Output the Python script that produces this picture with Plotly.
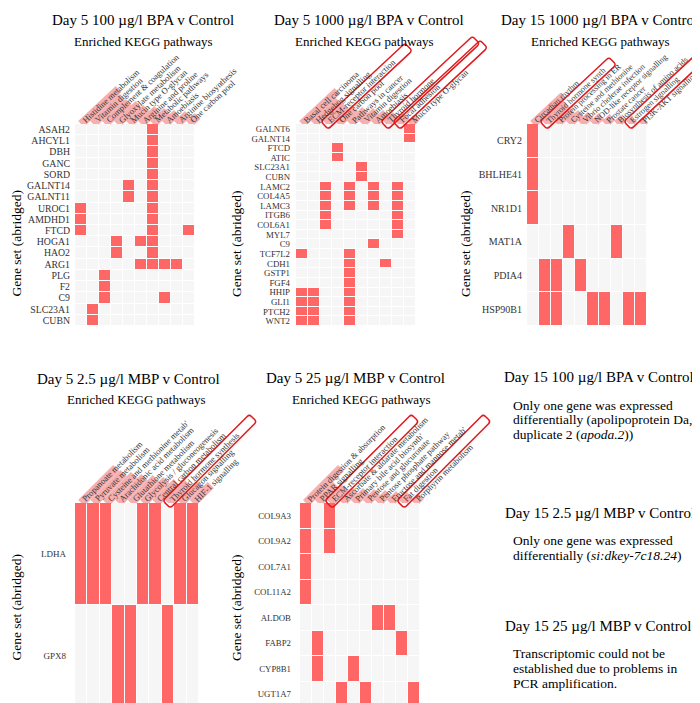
import math
import plotly.graph_objects as go

# ---------------- data ----------------
p1_title = "Day 5 100 \u00b5g/l BPA v Control"
p1_pathways = ["Histidine metabolism", "Vitamin digestion", "Complement & coagulation",
               "Glyoxylate metabolism", "Mucin type O-glycan", "Arginine and proline",
               "Metabolic pathways", "Amoebiasis", "Arginine biosynthesis", "One carbon pool"]
p1_genes = ["ASAH2", "AHCYL1", "DBH", "GANC", "SORD", "GALNT14", "GALNT11", "UROC1", "AMDHD1",
            "FTCD", "HOGA1", "HAO2", "ARG1", "PLG", "F2", "C9", "SLC23A1", "CUBN"]
p1_hits = [[6], [6], [6], [6], [6], [4, 6], [4, 6], [0, 6], [0, 6], [0, 6, 9], [3, 5, 6], [3, 6],
           [5, 6, 7, 8], [2], [2], [2, 7], [1], [1]]
p1_enrich = [35, 27, 22, 20, 16, 15, 13, 11, 10, 8]
p1_boxed = []

p2_title = "Day 5 1000 \u00b5g/l BPA v Control"
p2_pathways = ["Basal cell carcinoma", "Hedgehog signalling", "ECM-receptor interaction",
               "One carbon pool", "Pathways in cancer", "Vitamin digestion", "Amoebiasis",
               "Thyroid hormone", "Focal adhesion", "Mucin type O-glycan"]
p2_genes = ["GALNT6", "GALNT14", "FTCD", "ATIC", "SLC23A1", "CUBN", "LAMC2", "COL4A5", "LAMC3",
            "ITGB6", "COL6A1", "MYL7", "C9", "TCF7L2", "CDH1", "GSTP1", "FGF4", "HHIP", "GLI1",
            "PTCH2", "WNT2"]
p2_hits = [[9], [9], [3], [3], [5], [5], [2, 4, 6, 8], [2, 4, 6, 8], [2, 4, 6, 8], [2, 8], [2, 8],
           [8], [6], [0, 4], [4, 7], [4], [4], [0, 1, 4], [0, 1, 4], [0, 1, 4], [0, 1, 4]]
p2_enrich = [33, 23, 18, 16, 14, 13, 11, 9, 8, 6]
p2_boxed = [2, 7, 8]

p3_title = "Day 15 1000 \u00b5g/l BPA v Control"
p3_pathways = ["Circadian rhythm", "Thyroid hormone synth", "Protein processing in ER",
               "Cysteine and methionine", "Vibrio cholerae infection",
               "NOD-like receptor signalling", "Prostate cancer", "Biosynthesis of amino acids",
               "Estrogen signalling", "PI3K-AKT signalling"]
p3_genes = ["CRY2", "BHLHE41", "NR1D1", "MAT1A", "PDIA4", "HSP90B1"]
p3_hits = [[0], [0], [0], [3, 7], [1, 2, 4], [1, 2, 5, 6, 8, 9]]
p3_enrich = [28, 20, 14, 11, 9, 8, 7, 6, 5, 4]
p3_boxed = [1, 8]

p4_title = "Day 5 2.5 \u00b5g/l MBP v Control"
p4_pathways = ["Propanoate metabolism", "Pyruvate metabolism", "Cysteine and methionine metab'",
               "Arachidonic acid metabolism", "Glutathione metabolism",
               "Glycolysis / gluconeogenesis", "Central carbon metabolism",
               "Thyroid hormone synthesis", "Glucagon signalling", "HIF-1 signalling"]
p4_genes = ["LDHA", "GPX8"]
p4_hits = [[0, 1, 2, 5, 6, 8, 9], [3, 4, 7]]
p4_enrich = [35, 30, 28, 26, 25, 23, 21, 20, 19, 18]
p4_boxed = [7]

p5_title = "Day 5 25 \u00b5g/l MBP v Control"
p5_pathways = ["Protein digestion & absorption", "PPAR signalling", "ECM-receptor interaction",
               "Ascorbate & aldarate metabolism", "Primary bile acid biosynth'",
               "Pentose and glucuronate", "Pentose phosphate pathway",
               "Fructose and mannose metab'", "Fat digestion", "Porphyrin metabolism"]
p5_genes = ["COL9A3", "COL9A2", "COL7A1", "COL11A2", "ALDOB", "FABP2", "CYP8B1", "UGT1A7"]
p5_hits = [[0, 2], [0, 2], [0], [0], [6, 7], [1, 8], [1, 4], [3, 5, 9]]
p5_enrich = [35, 18, 15, 13, 12, 11, 10, 9, 8, 7]
p5_boxed = [2, 8]

sub_title = "Enriched KEGG pathways"
ylab = "Gene set (abridged)"

note_titles = ["Day 15 100 \u00b5g/l BPA v Control", "Day 15 2.5 \u00b5g/l MBP v Control",
               "Day 15 25 \u00b5g/l MBP v Control"]
note_lines = [["Only one gene was expressed", "differentially (apolipoprotein Da,",
               "duplicate 2 (<i>apoda.2</i>))"],
              ["Only one gene was expressed", "differentially (<i>si:dkey-7c18.24</i>)"],
              ["Transcriptomic could not be", "established due to problems in",
               "PCR amplification."]]

# ---------------- layout / style ----------------
W, H = 700, 703
FONT = '"Liberation Serif", "Times New Roman", Times, serif'
RED = "#ff6666"
EMPTY = "#f6f6f6"
PINK = "rgba(238,95,95,0.5)"
BOX = "#e0191c"
TITLE_SIZE = 15


def fx(px):
    return px / W


def fy(py):
    return 1 - py / H


panels = [
    dict(title=p1_title, pathways=p1_pathways, genes=p1_genes, hits=p1_hits, enrich=p1_enrich,
         boxed=p1_boxed, box_len=[], xdom=(67, 187), ydom=(116, 318), angle=43, gfont=9.8,
         lfont=8.6, standoff=4, title_xy=(135, 12), sub_xy=(135, 33), ylab_xy=(7.5, 236)),
    dict(title=p2_title, pathways=p2_pathways, genes=p2_genes, hits=p2_hits, enrich=p2_enrich,
         boxed=p2_boxed, box_len=[77, 84, 80], xdom=(288, 408), ydom=(116, 318), angle=43,
         gfont=8.8, lfont=8.6, standoff=5, title_xy=(361, 12), sub_xy=(356, 33),
         ylab_xy=(228, 236)),
    dict(title=p3_title, pathways=p3_pathways, genes=p3_genes, hits=p3_hits, enrich=p3_enrich,
         boxed=p3_boxed, box_len=[63, 67], xdom=(519, 639), ydom=(116, 318), angle=43,
         gfont=10, lfont=8.2, standoff=4, title_xy=(591, 12), sub_xy=(592, 33),
         ylab_xy=(457, 236)),
    dict(title=p4_title, pathways=p4_pathways, genes=p4_genes, hits=p4_hits, enrich=p4_enrich,
         boxed=p4_boxed, box_len=[85], xdom=(67, 191), ydom=(495, 699), angle=45,
         gfont=9, lfont=8.6, standoff=8, title_xy=(120, 371), sub_xy=(128, 391),
         ylab_xy=(7.5, 600)),
    dict(title=p5_title, pathways=p5_pathways, genes=p5_genes, hits=p5_hits, enrich=p5_enrich,
         boxed=p5_boxed, box_len=[85, 85], xdom=(292, 412), ydom=(495, 699), angle=45,
         gfont=8.8, lfont=8.6, standoff=8, title_xy=(347, 370), sub_xy=(353, 391),
         ylab_xy=(228, 600)),
]

LABEL_PAD = 1.5


def rect_path(a_deg, u0, u1, t, r=0.0):
    """Rotated (rounded) rectangle, pixel offsets from anchor, y up positive."""
    a = math.radians(a_deg)
    d = (math.cos(a), -math.sin(a))      # along label (screen coords)
    n = (math.sin(a), math.cos(a))       # perpendicular, down-right

    def P(u, v):
        x = u * d[0] + v * n[0]
        y = u * d[1] + v * n[1]
        return f"{x:.2f},{-y:.2f}"

    if r <= 0:
        return f"M {P(u0, t)} L {P(u1, t)} L {P(u1, -t)} L {P(u0, -t)} Z"
    return (f"M {P(u0 + r, t)} L {P(u1 - r, t)} Q {P(u1, t)} {P(u1, t - r)} "
            f"L {P(u1, -t + r)} Q {P(u1, -t)} {P(u1 - r, -t)} "
            f"L {P(u0 + r, -t)} Q {P(u0, -t)} {P(u0, -t + r)} "
            f"L {P(u0, t - r)} Q {P(u0, t)} {P(u0 + r, t)} Z")


fig = go.Figure()
annotations = []
shapes = []
layout_axes = {}

for k, p in enumerate(panels, start=1):
    sx = "" if k == 1 else str(k)
    xname, yname = "x" + sx, "y" + sx
    npw = len(p["pathways"])
    z = [[1 if c in row else 0 for c in range(npw)] for row in p["hits"]]
    fig.add_trace(go.Heatmap(
        z=z, x=p["pathways"], y=p["genes"], xaxis=xname, yaxis=yname,
        colorscale=[[0, EMPTY], [1, RED]], zmin=0, zmax=1, showscale=False,
        xgap=1, ygap=1, hoverinfo="skip"))
    layout_axes["xaxis" + sx] = dict(
        domain=[fx(p["xdom"][0]), fx(p["xdom"][1])], anchor=yname,
        showticklabels=False, showgrid=False, zeroline=False, ticks="",
        range=[-0.5, npw - 0.5], fixedrange=True, automargin=False)
    layout_axes["yaxis" + sx] = dict(
        domain=[fy(p["ydom"][1]), fy(p["ydom"][0])], anchor=xname,
        showgrid=False, zeroline=False, ticks="", autorange="reversed",
        tickmode="array", tickvals=p["genes"], ticktext=p["genes"],
        tickfont=dict(family=FONT, size=p["gfont"], color="#333333"),
        ticklabelstandoff=p["standoff"], fixedrange=True, automargin=False)

    a = p["angle"]
    ar = math.radians(a)
    t = (p["xdom"][1] - p["xdom"][0]) / npw * math.sin(ar) / 2
    xdomref, ydomref = xname + " domain", yname + " domain"
    label_h = p["lfont"] * 1.5

    # enrichment bars behind labels
    for i, v in enumerate(p["enrich"]):
        L = v / math.sin(ar)
        shapes.append(dict(
            type="path", xref=xdomref, yref=ydomref, xsizemode="pixel", ysizemode="pixel",
            xanchor=(i + 0.5) / npw, yanchor=1, path=rect_path(a, 0, L, t),
            fillcolor=PINK, line=dict(width=0), layer="below"))

    # rotated pathway labels
    for i, name in enumerate(p["pathways"]):
        xs = -(label_h / 2) * math.sin(ar) + LABEL_PAD * math.cos(ar)
        ys = -((label_h / 2) * math.cos(ar) - LABEL_PAD * math.sin(ar))
        annotations.append(dict(
            xref=xname, yref=ydomref, x=i, y=1, text=name, textangle=-a,
            xanchor="left", yanchor="bottom", xshift=xs, yshift=ys, showarrow=False,
            font=dict(family=FONT, size=p["lfont"], color="#363636")))

    # highlight boxes
    for j, i in enumerate(p["boxed"]):
        L = p["box_len"][j] / math.sin(ar)
        shapes.append(dict(
            type="path", xref=xdomref, yref=ydomref, xsizemode="pixel", ysizemode="pixel",
            xanchor=(i + 0.5) / npw, yanchor=1, path=rect_path(a, -2, L, 5.2, r=3),
            fillcolor="rgba(0,0,0,0)", line=dict(color=BOX, width=1.5)))

    # titles
    annotations.append(dict(
        xref="paper", yref="paper", x=fx(p["title_xy"][0]), y=fy(p["title_xy"][1]),
        text=p["title"], showarrow=False, xanchor="center", yanchor="middle",
        font=dict(family=FONT, size=TITLE_SIZE, color="#000000")))
    annotations.append(dict(
        xref="paper", yref="paper", x=fx(p["sub_xy"][0]), y=fy(p["sub_xy"][1]),
        text=sub_title, showarrow=False, xanchor="center", yanchor="middle",
        font=dict(family=FONT, size=13, color="#000000")))
    annotations.append(dict(
        xref="paper", yref="paper", x=fx(p["ylab_xy"][0]), y=fy(p["ylab_xy"][1]),
        text=ylab, textangle=-90, showarrow=False, xanchor="center", yanchor="middle",
        font=dict(family=FONT, size=13.5, color="#000000")))

# right-hand notes
note_title_pos = [(494, 369), (495, 505), (495, 618)]
note_line_pos = [[397, 411, 426], [532, 547], [645, 660, 675]]
for (tx, ty), ttl, lines, ys in zip(note_title_pos, note_titles, note_lines, note_line_pos):
    annotations.append(dict(
        xref="paper", yref="paper", x=fx(tx), y=fy(ty), text=ttl, showarrow=False,
        xanchor="left", yanchor="middle",
        font=dict(family=FONT, size=TITLE_SIZE, color="#000000")))
    for line, ly in zip(lines, ys):
        annotations.append(dict(
            xref="paper", yref="paper", x=fx(503), y=fy(ly), text=line, showarrow=False,
            xanchor="left", yanchor="middle",
            font=dict(family=FONT, size=13.5, color="#000000")))

fig.update_layout(
    template="none",
    width=W, height=H, margin=dict(l=0, r=0, t=0, b=0, autoexpand=False),
    paper_bgcolor="white", plot_bgcolor="white",
    showlegend=False, annotations=annotations, shapes=shapes,
    font=dict(family=FONT), **layout_axes)

fig.write_html("out.html")
